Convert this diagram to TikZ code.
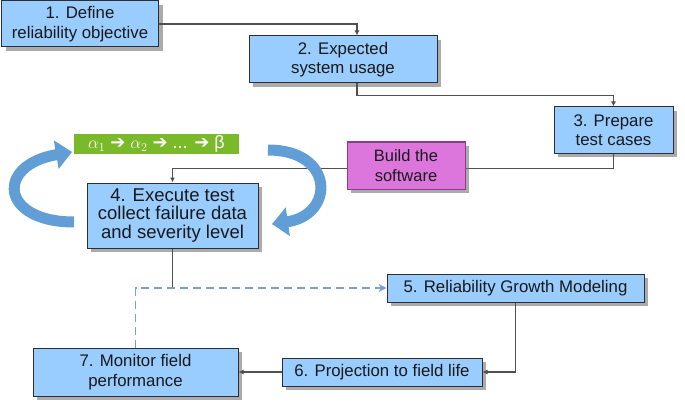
\documentclass[tikz,border=0pt]{standalone}
\usepackage{fontspec}
\setmainfont{Liberation Sans}
\newfontfamily\symbolfont{DejaVu Sans}
\usetikzlibrary{arrows.meta,shadows}
\definecolor{boxblue}{RGB}{153,204,255}
\definecolor{boxedge}{RGB}{45,45,55}
\definecolor{buildpink}{RGB}{220,118,220}
\definecolor{buildedge}{RGB}{140,60,140}
\definecolor{stepgreen}{RGB}{122,185,41}
\definecolor{loopblue}{RGB}{98,158,214}
\definecolor{feedback}{RGB}{125,160,200}
\definecolor{wire}{RGB}{80,80,80}
\newcommand{\arrowglyph}{{\symbolfont ➔}}

\begin{document}
\begin{tikzpicture}[x=1pt,y=-1pt,stage/.style={draw=boxedge,line width=1pt,fill=boxblue,inner sep=0pt,align=center,text=black!90,font=\fontsize{16.8}{19.5}\selectfont,drop shadow={shadow xshift=4pt,shadow yshift=-4pt,fill=black!55,opacity=.6}},build/.style={stage,draw=buildedge,fill=buildpink,font=\fontsize{16.5}{19.5}\selectfont},chain/.style={draw=white,line width=2.5pt,fill=stepgreen,inner sep=0pt,text=white,font=\fontsize{18}{18}\selectfont,drop shadow={shadow xshift=1pt,shadow yshift=-1pt,fill=black!30,opacity=.6}},link/.style={draw=wire,line width=1.1pt,-{Latex[length=5pt,width=5pt]}},wireline/.style={draw=wire,line width=1.1pt},feedbackline/.style={draw=feedback,line width=1.8pt,dash pattern=on 8pt off 5pt,-{Stealth[length=8pt,width=8pt]}},turn/.style={draw=loopblue,line width=11pt,-{Triangle[length=16pt,width=28pt]}}]
\useasboundingbox (0,0) rectangle (685,409);
\coordinate (P1) at (80,24);
\coordinate (P2) at (343,59.5);
\coordinate (P3) at (613.5,130);
\coordinate (P4) at (172.5,215.5);
\coordinate (P5) at (515.5,288);
\coordinate (P6) at (382,372);
\coordinate (P7) at (135.5,372);
\coordinate (PB) at (406,165.5);
\coordinate (PG) at (156.5,144);
\node[stage,minimum width=157pt,minimum height=46pt] (b1) at (P1) {1. Define\\reliability objective};
\node[stage,minimum width=188pt,minimum height=47pt] (b2) at (P2) {2. Expected\\system usage};
\node[stage,minimum width=119pt,minimum height=46pt] (b3) at (P3) {3. Prepare\\test cases};
\node[stage,minimum width=171pt,minimum height=65pt,font=\fontsize{18.5}{18.5}\selectfont] (b4) at (P4) {4. Execute test\\collect failure data\\and severity level};
\node[stage,minimum width=257pt,minimum height=28pt] (b5) at (P5) {5. Reliability Growth Modeling};
\node[stage,minimum width=200pt,minimum height=28pt] (b6) at (P6) {6. Projection to field life};
\node[stage,minimum width=205pt,minimum height=48pt] (b7) at (P7) {7. Monitor field\\performance};
\draw[link] (b1.east) -| ([xshift=14pt]b2.north);
\draw[link] ([xshift=14pt]b2.south) -- ++(0,12) -| (b3.north);
\draw[link] (b3.south) -- ++(0,15) -| (b4.north);
\draw[wireline] (b4.south) -- (b4.south |- b5.west);
\draw[feedbackline] (b7.north) |- (b5.west);
\draw[link] (b5.south) |- (b6.east);
\draw[link] (b6.west) -- (b7.east);
\node[build,minimum width=118pt,minimum height=47pt] (build) at (PB) {Build the\\software};
\node[chain,minimum width=167pt,minimum height=22pt] (chain) at (PG) {$\alpha_1$ \arrowglyph{} $\alpha_2$ \arrowglyph{} ... \arrowglyph{} β};
\draw[turn] (74,222) .. controls (0,222) and (-5,165) .. (72,152);
\draw[turn] (268,150) .. controls (335,150) and (335,215) .. (272,224);
\end{tikzpicture}
\end{document}
